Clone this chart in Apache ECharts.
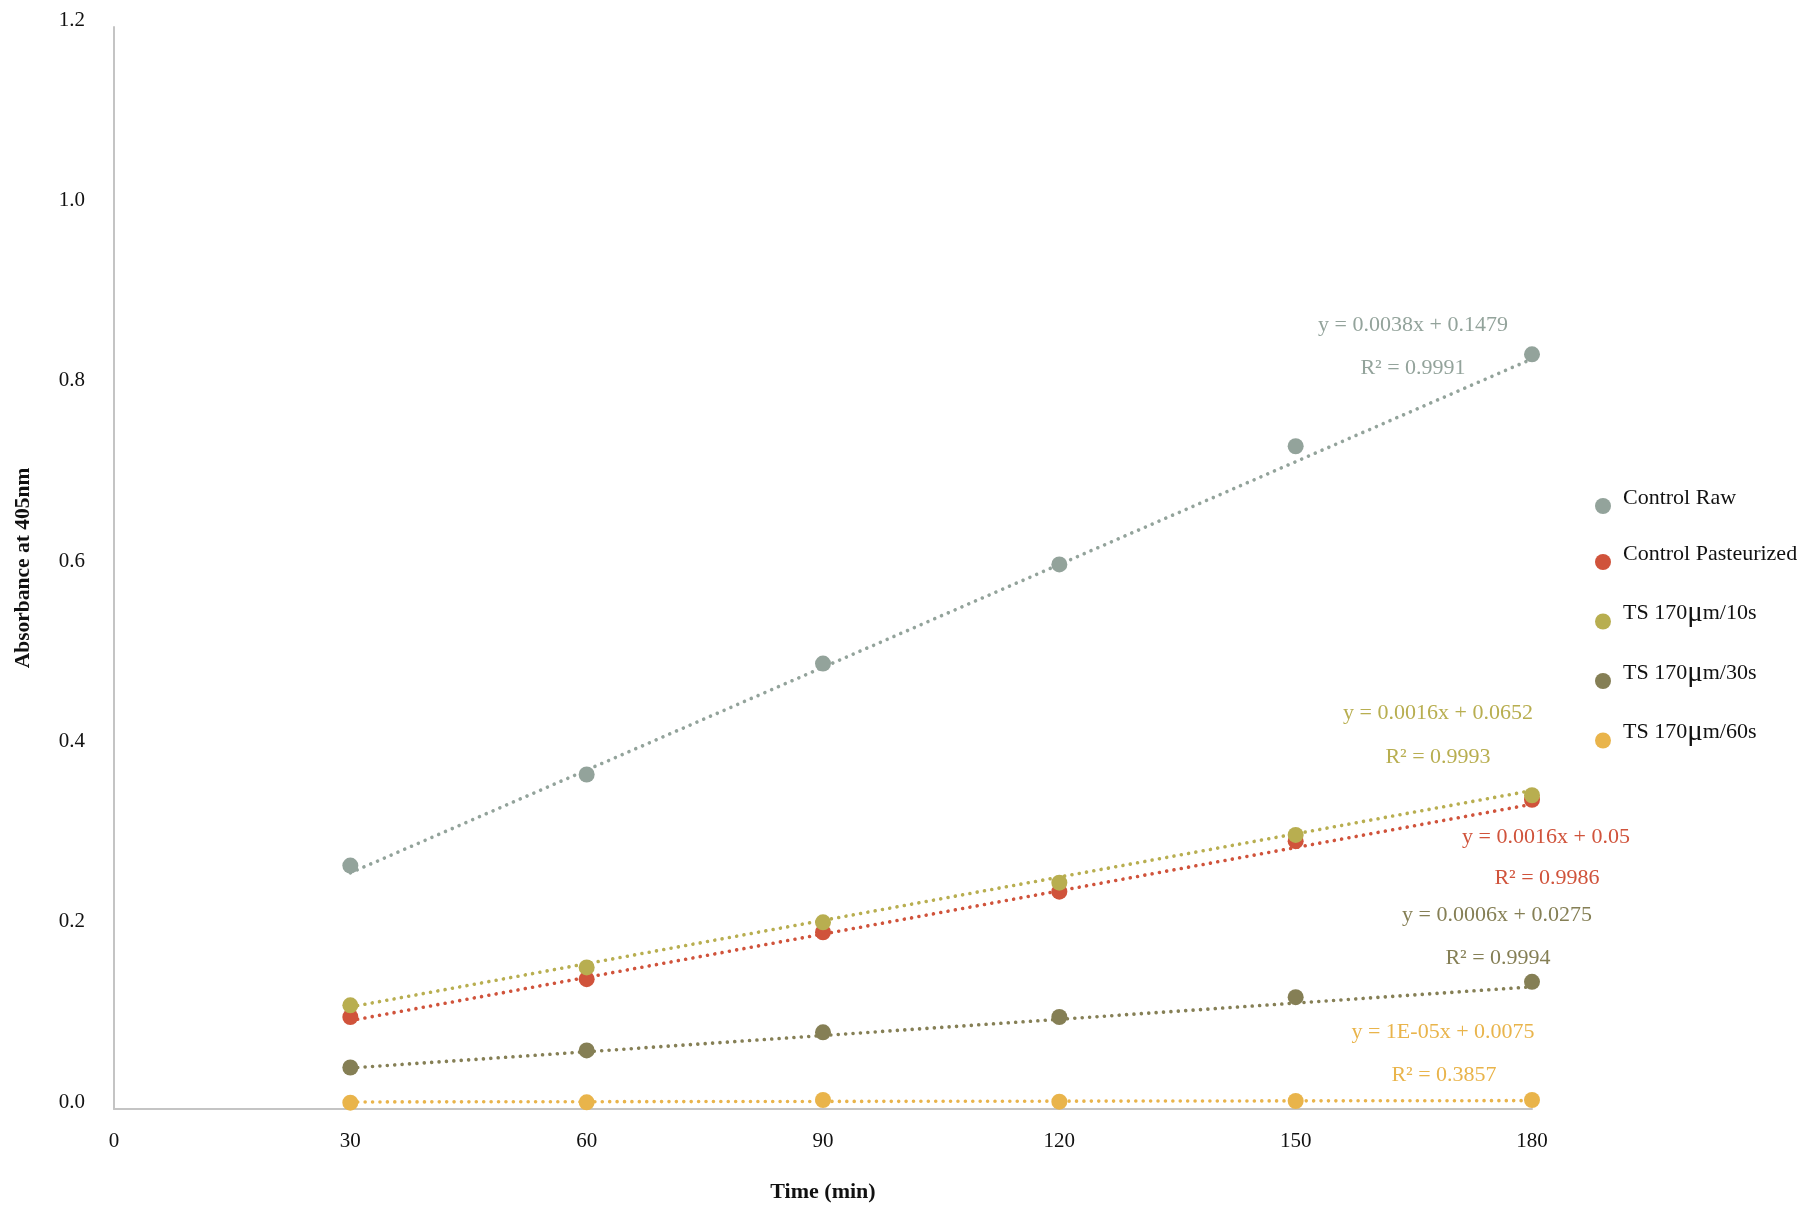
<!DOCTYPE html>
<html>
<head>
<meta charset="utf-8">
<title>Absorbance at 405nm over time</title>
<script src="https://cdn.jsdelivr.net/npm/echarts@6/dist/echarts.min.js"></script>
<style>
  html, body { margin: 0; padding: 0; background: #ffffff; }
  #chart { width: 1806px; height: 1206px; }
</style>
</head>
<body>
<div id="chart"></div>
<script>
// Sampling times (min)
const times = [30, 60, 90, 120, 150, 180];

// Absorbance readings at 405 nm for each sample
const controlRaw = [0.270, 0.371, 0.494, 0.604, 0.735, 0.837];
const controlPasteurized = [0.102, 0.144, 0.196, 0.241, 0.297, 0.343];
const ts10 = [0.115, 0.157, 0.207, 0.251, 0.304, 0.348];
const ts30 = [0.046, 0.065, 0.085, 0.102, 0.124, 0.141];
const ts60 = [0.007, 0.0074, 0.010, 0.0081, 0.0089, 0.010];

// Series names and colours
const seriesNames = ['Control Raw', 'Control Pasteurized', 'TS 170μm/10s', 'TS 170μm/30s', 'TS 170μm/60s'];
const seriesColors = ['#93a39b', '#d0533b', '#b8ae50', '#857f55', '#e9b44b'];

// Linear trendline fits (y = slope * x + intercept) and R² per series
const slopes = [0.0038, 0.0016, 0.0016, 0.0006, 0.00001];
const intercepts = [0.1479, 0.05, 0.0652, 0.0275, 0.0075];
const slopeText = ['0.0038', '0.0016', '0.0016', '0.0006', '1E-05'];
const interceptText = ['0.1479', '0.05', '0.0652', '0.0275', '0.0075'];
const r2Text = ['0.9991', '0.9986', '0.9993', '0.9994', '0.3857'];

// Axis ticks
const xTicks = { min: 0, max: 180, step: 30 };
const yTicks = { min: 0, max: 1.2, step: 0.2 };

const FONT = '"Liberation Serif", "DejaVu Serif", serif';
const allValues = [controlRaw, controlPasteurized, ts10, ts30, ts60];

// Data point series
const pointSeries = seriesNames.map((name, i) => ({
  name: name,
  type: 'scatter',
  symbol: 'circle',
  symbolSize: 16,
  z: 3,
  itemStyle: { color: seriesColors[i], opacity: 1 },
  data: times.map((t, k) => [t, allValues[i][k]])
}));

// Dotted trendlines spanning the sampled range
const trendSeries = seriesNames.map((name, i) => {
  const x0 = times[0], x1 = times[times.length - 1];
  return {
    name: name + ' trend',
    type: 'line',
    showSymbol: false,
    silent: true,
    z: 2,
    lineStyle: { color: seriesColors[i], width: 3.6, type: [0.01, 7.4], cap: 'round' },
    data: [[x0, slopes[i] * x0 + intercepts[i]], [x1, slopes[i] * x1 + intercepts[i]]]
  };
});

// Trendline equation labels, placed beside the right end of each line
const labelPos = [
  [1413, 325, 1413, 368],
  [1546, 837, 1547, 878],
  [1438, 713, 1438, 757],
  [1497, 915, 1498, 958],
  [1443, 1032, 1444, 1075]
];
const eqGraphics = [];
seriesNames.forEach((name, i) => {
  const p = labelPos[i];
  eqGraphics.push({
    type: 'text', x: p[0], y: p[1],
    style: {
      text: 'y = ' + slopeText[i] + 'x + ' + interceptText[i],
      fill: seriesColors[i], font: '22px ' + FONT,
      align: 'center', verticalAlign: 'middle'
    }
  });
  eqGraphics.push({
    type: 'text', x: p[2], y: p[3],
    style: {
      text: 'R² = ' + r2Text[i],
      fill: seriesColors[i], font: '22px ' + FONT,
      align: 'center', verticalAlign: 'middle'
    }
  });
});

const chart = echarts.init(document.getElementById('chart'), null, { renderer: 'canvas' });
chart.setOption({
  backgroundColor: '#ffffff',
  animation: false,
  textStyle: { fontFamily: FONT },
  grid: { left: 114, top: 27, right: 274, bottom: 97, containLabel: false, outerBoundsMode: 'none' },
  legend: {
    data: seriesNames,
    orient: 'vertical',
    left: 1590,
    top: 482,
    icon: 'circle',
    itemWidth: 16,
    itemHeight: 16,
    itemGap: 21.5,
    selectedMode: false,
    formatter: (name) => name.replace('μ', '{mu|μ}'),
    textStyle: {
      fontFamily: FONT, fontSize: 22, color: '#111111', lineHeight: 15,
      padding: [0, 0, 16, 7],
      rich: { mu: { fontFamily: FONT, fontSize: 29, lineHeight: 15, color: '#111111' } }
    }
  },
  xAxis: {
    type: 'value',
    min: xTicks.min, max: xTicks.max, interval: xTicks.step,
    name: 'Time (min)',
    nameLocation: 'middle',
    nameGap: 72,
    nameTextStyle: { fontFamily: FONT, fontSize: 22, fontWeight: 'bold', color: '#111111' },
    axisLine: { show: true, lineStyle: { color: '#c4c4c4', width: 2 } },
    axisTick: { show: false },
    splitLine: { show: false },
    axisLabel: { fontFamily: FONT, fontSize: 21, color: '#111111', margin: 22 }
  },
  yAxis: {
    type: 'value',
    min: yTicks.min, max: yTicks.max, interval: yTicks.step,
    name: 'Absorbance at 405nm',
    nameLocation: 'middle',
    nameGap: 80,
    nameRotate: 90,
    nameTextStyle: { fontFamily: FONT, fontSize: 21.5, fontWeight: 'bold', color: '#111111' },
    axisLine: { show: true, lineStyle: { color: '#c4c4c4', width: 2 } },
    axisTick: { show: false },
    splitLine: { show: false },
    axisLabel: {
      fontFamily: FONT, fontSize: 21, color: '#111111', margin: 29,
      verticalAlign: 'bottom', lineHeight: 14,
      formatter: (v) => v.toFixed(1)
    }
  },
  graphic: eqGraphics,
  series: trendSeries.concat(pointSeries)
});
</script>
</body>
</html>
